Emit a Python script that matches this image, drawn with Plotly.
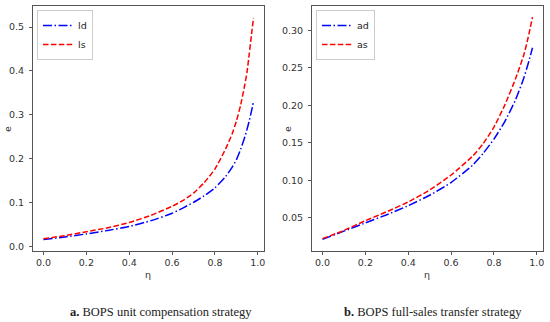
import plotly.graph_objects as go

# ---- data ----
eta = [0.0, 0.1, 0.2, 0.3, 0.4, 0.5, 0.6, 0.65, 0.7, 0.75, 0.8, 0.85, 0.88, 0.9, 0.92, 0.94, 0.95, 0.96, 0.97, 0.98]
ld = [0.015, 0.021, 0.028, 0.036, 0.045, 0.058, 0.075, 0.087, 0.100, 0.115, 0.133, 0.159, 0.180, 0.197, 0.221, 0.250, 0.267, 0.286, 0.307, 0.330]
ls = [0.017, 0.024, 0.033, 0.042, 0.054, 0.070, 0.091, 0.104, 0.121, 0.145, 0.176, 0.222, 0.256, 0.285, 0.322, 0.370, 0.398, 0.438, 0.480, 0.521]

eta_b = [0.0, 0.1, 0.2, 0.3, 0.4, 0.5, 0.6, 0.7, 0.75, 0.8, 0.85, 0.9, 0.94, 0.96, 0.98]
ad = [0.021, 0.032, 0.043, 0.054, 0.066, 0.080, 0.097, 0.120, 0.136, 0.155, 0.178, 0.207, 0.237, 0.256, 0.277]
as_ = [0.022, 0.033, 0.046, 0.058, 0.071, 0.087, 0.107, 0.132, 0.149, 0.171, 0.200, 0.235, 0.268, 0.291, 0.318]

left_yticks = [0.0, 0.1, 0.2, 0.3, 0.4, 0.5]
right_yticks = [0.05, 0.10, 0.15, 0.20, 0.25, 0.30]
xticks = [0.0, 0.2, 0.4, 0.6, 0.8, 1.0]
caption_a = "<b>a.</b> BOPS unit compensation strategy"
caption_b = "<b>b.</b> BOPS full-sales transfer strategy"

W, H = 550, 322
BLUE_DASH = "9px,2.5px,1.5px,2.5px"
RED_DASH = "5.5px,2.4px"

fig = go.Figure()
fig.add_trace(go.Scatter(x=eta, y=ld, name="ld", mode="lines", xaxis="x", yaxis="y",
                         line=dict(color="#0000ff", width=1.5, dash=BLUE_DASH, shape="spline", smoothing=0.5),
                         legend="legend"))
fig.add_trace(go.Scatter(x=eta, y=ls, name="ls", mode="lines", xaxis="x", yaxis="y",
                         line=dict(color="#ff0000", width=1.5, dash=RED_DASH, shape="spline", smoothing=0.5),
                         legend="legend"))
fig.add_trace(go.Scatter(x=eta_b, y=ad, name="ad", mode="lines", xaxis="x2", yaxis="y2",
                         line=dict(color="#0000ff", width=1.5, dash=BLUE_DASH, shape="spline", smoothing=0.5),
                         legend="legend2"))
fig.add_trace(go.Scatter(x=eta_b, y=as_, name="as", mode="lines", xaxis="x2", yaxis="y2",
                         line=dict(color="#ff0000", width=1.5, dash=RED_DASH, shape="spline", smoothing=0.5),
                         legend="legend2"))

tickfont = dict(family="DejaVu Sans", size=9.5, color="#333")
axis_common = dict(showgrid=False, zeroline=False, showline=True, linecolor="#555", linewidth=1,
                   mirror=True, ticks="outside", ticklen=3, tickwidth=1, tickcolor="#555",
                   tickfont=tickfont)

ydom = [1 - 251 / H, 1 - 6 / H]
legend_font = dict(family="DejaVu Sans", size=9.5, color="#222")
fig.update_layout(
    width=W, height=H, margin=dict(l=0, r=0, t=0, b=0),
    paper_bgcolor="white", plot_bgcolor="white",
    xaxis=dict(domain=[33 / W, 264 / W], range=[-0.049, 1.029], tickvals=xticks, tickformat=".1f",
               anchor="y", **axis_common),
    yaxis=dict(domain=ydom, range=[-0.011, 0.548], tickvals=left_yticks, tickformat=".1f",
               anchor="x", ticklabelstandoff=3, **axis_common),
    xaxis2=dict(domain=[312 / W, 543 / W], range=[-0.049, 1.029], tickvals=xticks, tickformat=".1f",
                anchor="y2", **axis_common),
    yaxis2=dict(domain=ydom, range=[0.0055, 0.3328], tickvals=right_yticks, tickformat=".2f",
                anchor="x2", ticklabelstandoff=3, **axis_common),
    legend=dict(x=37 / W, y=1 - 10 / H, xanchor="left", yanchor="top", bgcolor="white",
                bordercolor="#ccc", borderwidth=1, font=legend_font, itemwidth=30, tracegroupgap=0),
    legend2=dict(x=316 / W, y=1 - 10 / H, xanchor="left", yanchor="top", bgcolor="white",
                 bordercolor="#ccc", borderwidth=1, font=legend_font, itemwidth=30, tracegroupgap=0),
    showlegend=True,
)

annots = [
    dict(text="e", x=7 / W, y=1 - 129 / H, textangle=-90),
    dict(text="e", x=287 / W, y=1 - 129 / H, textangle=-90),
    dict(text="η", x=148 / W, y=1 - 274 / H),
    dict(text="η", x=427 / W, y=1 - 274 / H),
]
for a in annots:
    fig.add_annotation(xref="paper", yref="paper", showarrow=False, xanchor="center", yanchor="middle",
                       font=dict(family="DejaVu Sans", size=9.5, color="#333"), **a)

for txt, cx in [(caption_a, 161), (caption_b, 433)]:
    fig.add_annotation(text=txt, xref="paper", yref="paper", x=cx / W, y=1 - 312 / H, showarrow=False,
                       xanchor="center", yanchor="middle",
                       font=dict(family="Liberation Serif", size=12.5, color="#222"))

fig.write_html("out.html", config={"displayModeBar": False},
               post_script="document.body.style.margin='0';document.body.style.overflow='hidden';")
